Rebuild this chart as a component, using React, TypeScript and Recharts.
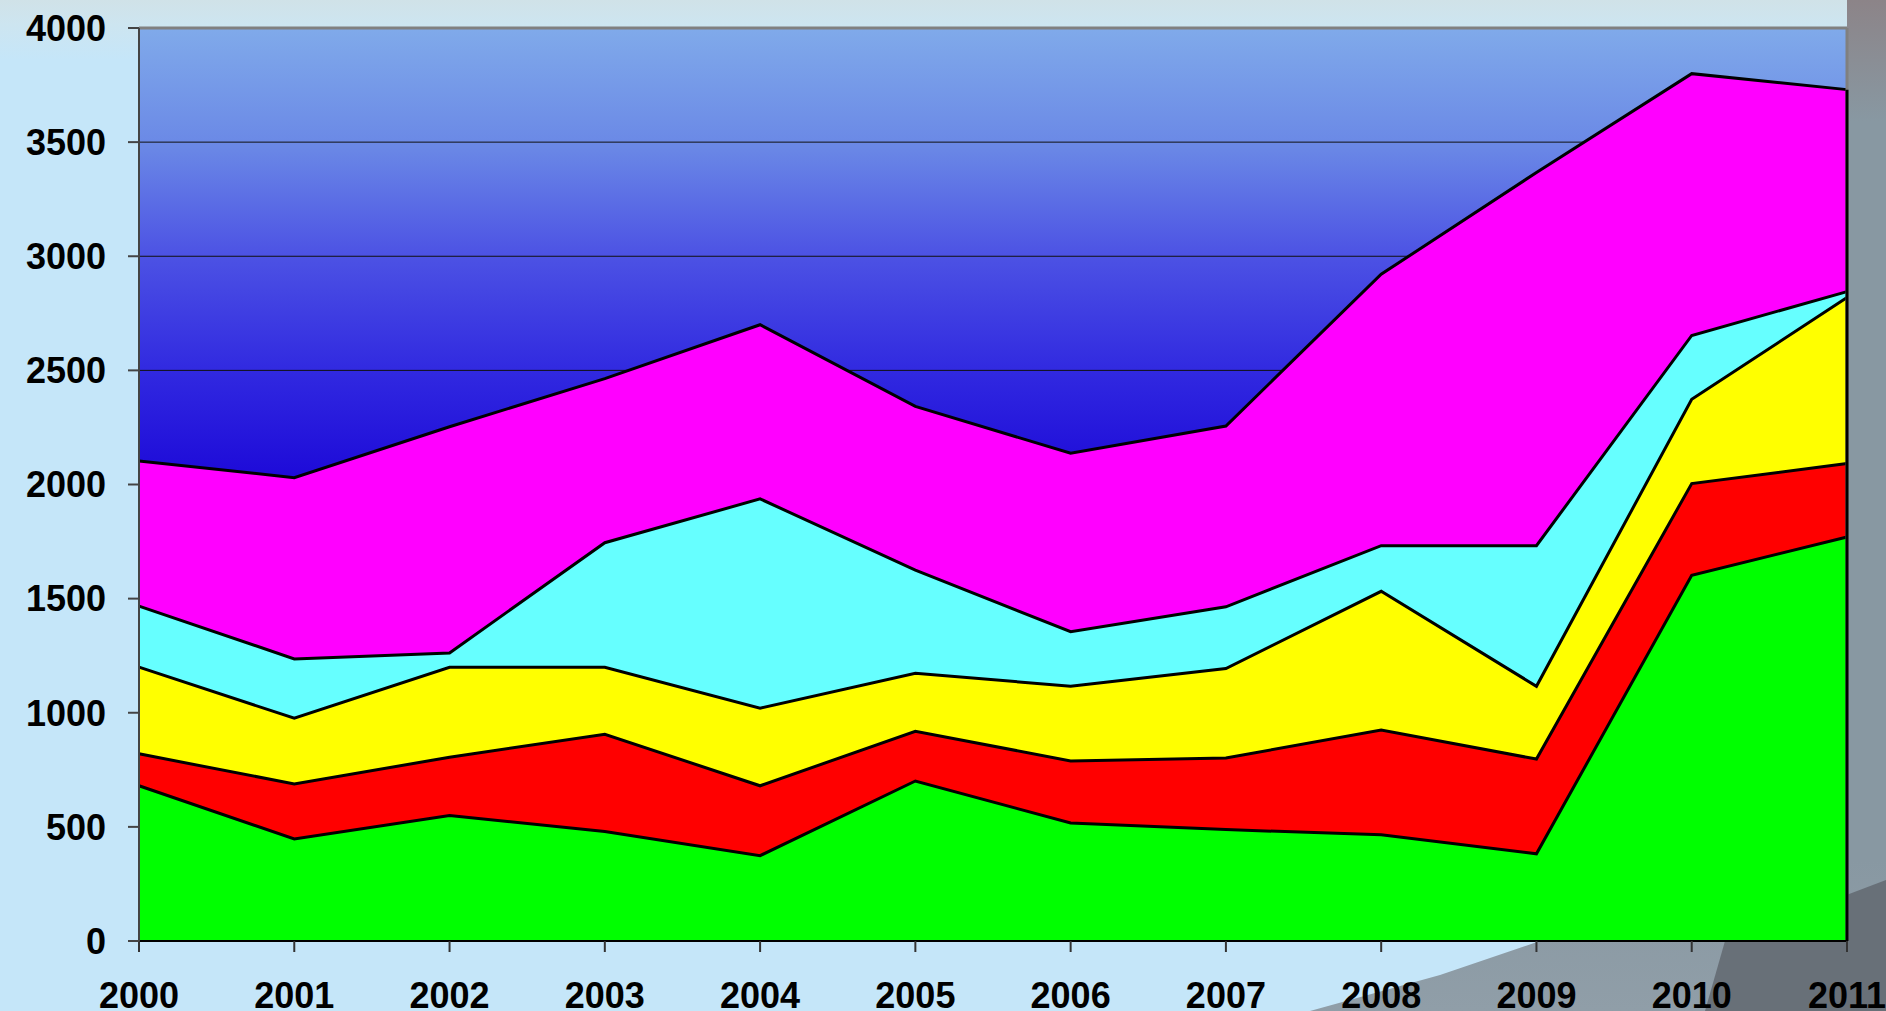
import { Area, AreaChart, CartesianGrid, ReferenceLine, XAxis, YAxis } from 'recharts';

const years = ['2000', '2001', '2002', '2003', '2004', '2005', '2006', '2007', '2008', '2009', '2010', '2011'];
const green = [680, 447, 550, 480, 374, 701, 517, 488, 465, 382, 1602, 1770];
const red = [140, 241, 255, 426, 306, 218, 272, 314, 459, 415, 402, 322];
const yellow = [380, 288, 394, 293, 340, 254, 327, 392, 608, 319, 369, 727];
const cyan = [267, 260, 63, 546, 917, 452, 239, 270, 200, 616, 280, 26];
const magenta = [636, 794, 991, 719, 763, 717, 782, 792, 1189, 1635, 1147, 885];
const yTicks = [0, 500, 1000, 1500, 2000, 2500, 3000, 3500, 4000];

const data = years.map((year, i) => ({
  year,
  green: green[i],
  red: red[i],
  yellow: yellow[i],
  cyan: cyan[i],
  magenta: magenta[i],
}));

const last = years.length - 1;
const lastTotal = green[last] + red[last] + yellow[last] + cyan[last] + magenta[last];

const series = [
  { key: 'green', color: '#00ff00' },
  { key: 'red', color: '#ff0000' },
  { key: 'yellow', color: '#ffff00' },
  { key: 'cyan', color: '#66ffff' },
  { key: 'magenta', color: '#ff00ff' },
];

const tickStyle = {
  fill: '#000',
  fontFamily: '"Liberation Sans", Arial, sans-serif',
  fontWeight: 'bold',
  fontSize: 36,
};

// slide backdrop: light blue with a grey photo corner on the right
function Backdrop() {
  return (
    <svg
      width={1886}
      height={1011}
      style={{ position: 'absolute', left: 0, top: 0 }}
    >
      <defs>
        <linearGradient id='topBand' x1='0' y1='0' x2='0' y2='1'>
          <stop offset='0%' stopColor='#d0e2e8' />
          <stop offset='40%' stopColor='#cde5f0' />
          <stop offset='100%' stopColor='#c5e6f9' />
        </linearGradient>
        <linearGradient id='corner' x1='0' y1='0' x2='0' y2='1'>
          <stop offset='0%' stopColor='#8c8488' />
          <stop offset='12%' stopColor='#8898a2' />
          <stop offset='85%' stopColor='#8898a2' />
          <stop offset='100%' stopColor='#909ea8' />
        </linearGradient>
      </defs>
      <rect x={0} y={0} width={1886} height={1011} fill='#c5e6f9' />
      <rect x={0} y={0} width={1886} height={60} fill='url(#topBand)' />
      <polygon
        points='1790,0 1886,0 1886,1011 1310,1011 1440,975 1540,941 1700,880 1847,780 1847,0'
        fill='url(#corner)'
      />
      <polygon points='1725,941 1886,880 1886,1011 1705,1011' fill='#687078' />
    </svg>
  );
}

export default function App() {
  return (
    <div
      style={{
        position: 'absolute',
        left: 0,
        top: 0,
        width: 1886,
        height: 1011,
        overflow: 'hidden',
      }}
    >
      <Backdrop />
      <div style={{ position: 'absolute', left: 0, top: 0 }}>
        <AreaChart
          width={1886}
          height={1011}
          data={data}
          margin={{ top: 28, right: 39, left: 0, bottom: 0 }}
        >
          <defs>
            <linearGradient id='plotBg' x1='0' y1='0' x2='0' y2='1'>
              <stop offset='0%' stopColor='#80aaea' />
              <stop offset='13%' stopColor='#6a88e6' />
              <stop offset='25%' stopColor='#4c52e4' />
              <stop offset='38%' stopColor='#3028e0' />
              <stop offset='50%' stopColor='#1c08d8' />
              <stop offset='100%' stopColor='#1000d0' />
            </linearGradient>
          </defs>
          <CartesianGrid
            vertical={false}
            stroke='#111'
            strokeWidth={1}
            fill='url(#plotBg)'
            fillOpacity={1}
          />
          <XAxis
            dataKey='year'
            height={70}
            tick={tickStyle}
            tickSize={11}
            tickMargin={30}
            axisLine={{ stroke: '#000', strokeWidth: 2 }}
            tickLine={{ stroke: '#333', strokeWidth: 2 }}
            interval={0}
          />
          <YAxis
            width={139}
            domain={[0, 4000]}
            ticks={yTicks}
            tick={tickStyle}
            tickSize={11}
            tickMargin={22}
            axisLine={{ stroke: '#444', strokeWidth: 2 }}
            tickLine={{ stroke: '#444', strokeWidth: 2 }}
            interval={0}
          />
          <ReferenceLine y={4000} stroke='#808080' strokeWidth={3} />
          <ReferenceLine x='2011' stroke='#808080' strokeWidth={3} />
          {series.map((s) => (
            <Area
              key={s.key}
              type='linear'
              dataKey={s.key}
              stackId='fill'
              fill={s.color}
              fillOpacity={1}
              stroke='none'
              dot={false}
              activeDot={false}
              isAnimationActive={false}
            />
          ))}
          {series.map((s) => (
            <Area
              key={s.key + '-edge'}
              type='linear'
              dataKey={s.key}
              stackId='edge'
              fill='none'
              stroke='#000'
              strokeWidth={3}
              dot={false}
              activeDot={false}
              isAnimationActive={false}
            />
          ))}
          <ReferenceLine
            segment={[
              { x: '2011', y: 0 },
              { x: '2011', y: lastTotal },
            ]}
            stroke='#000'
            strokeWidth={3}
          />
        </AreaChart>
      </div>
    </div>
  );
}
